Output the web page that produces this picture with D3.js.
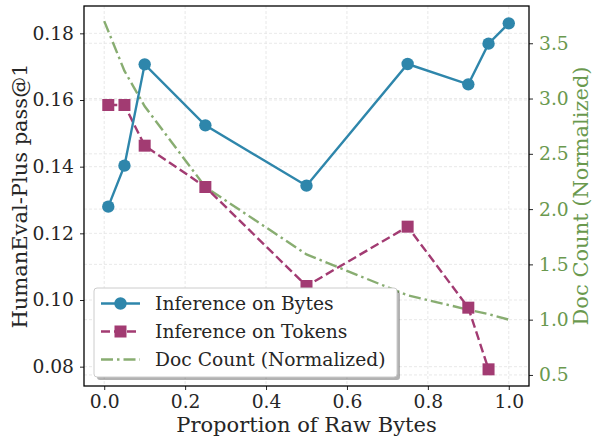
<!DOCTYPE html>
<html><head><meta charset="utf-8">
<script src="https://cdn.jsdelivr.net/npm/d3@7"></script>
<style>body{margin:0;background:#fff}svg{display:block}</style>
</head><body>
<svg id="c" width="592" height="436"></svg>
<script>
const xTicks = [0.0, 0.2, 0.4, 0.6, 0.8, 1.0];
const leftTicks = [0.08, 0.10, 0.12, 0.14, 0.16, 0.18];
const rightTicks = [0.5, 1.0, 1.5, 2.0, 2.5, 3.0, 3.5];
const bytesX = [0.01, 0.05, 0.1, 0.25, 0.5, 0.75, 0.9, 0.95, 1.0];
const bytesY = [0.128, 0.1403, 0.1707, 0.1524, 0.1343, 0.1708, 0.1647, 0.1769, 0.183];
const tokensX = [0.01, 0.05, 0.1, 0.25, 0.5, 0.75, 0.9, 0.95];
const tokensY = [0.1585, 0.1585, 0.1463, 0.1339, 0.1042, 0.122, 0.0977, 0.0792];
const docX = [0.0, 0.05, 0.1, 0.25, 0.5, 0.75, 0.9, 0.95, 1.0];
const docY = [3.70, 3.25, 2.93, 2.20, 1.59, 1.22, 1.09, 1.05, 1.00];
const legendLabels = ["Inference on Bytes", "Inference on Tokens", "Doc Count (Normalized)"];

const C_BYTES = "#2E86AB", C_TOK = "#A23B72", C_DOC = "#6A994E";
const FONT = "'DejaVu Serif', serif";
const m = {l:84, r:529, t:6, b:386};
const svg = d3.select("#c");
const x = d3.scaleLinear().domain([-0.05, 1.05]).range([m.l, m.r]);
const yL = d3.scaleLinear().domain([0.0742, 0.1882]).range([m.b, m.t]);
const yR = d3.scaleLinear().domain([0.40, 3.837]).range([m.b, m.t]);

// grid
const g = svg.append("g").attr("stroke", "#e3e3e3").attr("stroke-width", 0.8).attr("stroke-dasharray", "3,2");
xTicks.forEach(v => g.append("line").attr("x1", x(v)).attr("x2", x(v)).attr("y1", m.t).attr("y2", m.b));
leftTicks.forEach(v => g.append("line").attr("x1", m.l).attr("x2", m.r).attr("y1", yL(v)).attr("y2", yL(v)));
rightTicks.forEach(v => g.append("line").attr("x1", m.l).attr("x2", m.r).attr("y1", yR(v)).attr("y2", yR(v)));

// axes
const fmt2 = d3.format(".2f"), fmt1 = d3.format(".1f");
const ax = svg.append("g").attr("transform", `translate(0,${m.b})`)
  .call(d3.axisBottom(x).tickValues(xTicks).tickFormat(fmt1).tickSize(4).tickPadding(5));
const al = svg.append("g").attr("transform", `translate(${m.l},0)`)
  .call(d3.axisLeft(yL).tickValues(leftTicks).tickFormat(fmt2).tickSize(4).tickPadding(6));
const ar = svg.append("g").attr("transform", `translate(${m.r},0)`)
  .call(d3.axisRight(yR).tickValues(rightTicks).tickFormat(fmt1).tickSize(4).tickPadding(6));
[ax, al, ar].forEach(a => {
  a.selectAll(".domain").remove();
  a.attr("font-family", FONT);
  a.selectAll("text").attr("font-family", FONT).attr("font-size", 18.7).attr("fill", "#262626");
  a.selectAll("line").attr("stroke", "#262626").attr("stroke-width", 1);
});
ar.selectAll("text").attr("fill", C_DOC);

// frame
svg.append("rect").attr("x", m.l).attr("y", m.t).attr("width", m.r - m.l).attr("height", m.b - m.t)
  .attr("fill", "none").attr("stroke", "#000").attr("stroke-width", 1.3);

// doc count line
const docData = docX.map((v, i) => [v, docY[i]]);
svg.append("path").datum(docData)
  .attr("d", d3.line().x(d => x(d[0])).y(d => yR(d[1])))
  .attr("fill", "none").attr("stroke", C_DOC).attr("stroke-opacity", 0.8).attr("stroke-width", 2.4)
  .attr("stroke-dasharray", "12,4,2.5,4");

// tokens
const tokData = tokensX.map((v, i) => [v, tokensY[i]]);
svg.append("path").datum(tokData)
  .attr("d", d3.line().x(d => x(d[0])).y(d => yL(d[1])))
  .attr("fill", "none").attr("stroke", C_TOK).attr("stroke-width", 2.4).attr("stroke-dasharray", "9,4");
svg.append("g").selectAll("rect").data(tokData).join("rect")
  .attr("x", d => x(d[0]) - 6).attr("y", d => yL(d[1]) - 6).attr("width", 12).attr("height", 12)
  .attr("fill", C_TOK);

// bytes
const byData = bytesX.map((v, i) => [v, bytesY[i]]);
svg.append("path").datum(byData)
  .attr("d", d3.line().x(d => x(d[0])).y(d => yL(d[1])))
  .attr("fill", "none").attr("stroke", C_BYTES).attr("stroke-width", 2.4);
svg.append("g").selectAll("circle").data(byData).join("circle")
  .attr("cx", d => x(d[0])).attr("cy", d => yL(d[1])).attr("r", 6.2).attr("fill", C_BYTES);

// axis labels
svg.append("text").attr("x", (m.l + m.r) / 2).attr("y", 432).attr("text-anchor", "middle")
  .attr("font-family", FONT).attr("font-size", 21).attr("fill", "#262626").text("Proportion of Raw Bytes");
svg.append("text").attr("transform", `translate(27,${(m.t + m.b) / 2}) rotate(-90)`).attr("text-anchor", "middle")
  .attr("font-family", FONT).attr("font-size", 21).attr("fill", "#262626").text("HumanEval-Plus pass@1");
svg.append("text").attr("transform", `translate(588,${(m.t + m.b) / 2}) rotate(-90)`).attr("text-anchor", "middle")
  .attr("font-family", FONT).attr("font-size", 21).attr("fill", C_DOC).text("Doc Count (Normalized)");

// legend
const L = {x: 94, y: 288, w: 303, h: 89};
svg.append("rect").attr("x", L.x + 3).attr("y", L.y + 3).attr("width", L.w).attr("height", L.h).attr("rx", 3)
  .attr("fill", "#000").attr("opacity", 0.3);
svg.append("rect").attr("x", L.x).attr("y", L.y).attr("width", L.w).attr("height", L.h).attr("rx", 3)
  .attr("fill", "#fff").attr("stroke", "#cccccc").attr("stroke-width", 1);
const rows = [303.5, 331.5, 359.5];
const lg = svg.append("g");
lg.append("line").attr("x1", 101).attr("x2", 140).attr("y1", rows[0]).attr("y2", rows[0]).attr("stroke", C_BYTES).attr("stroke-width", 2.4);
lg.append("circle").attr("cx", 120.5).attr("cy", rows[0]).attr("r", 6.2).attr("fill", C_BYTES);
lg.append("line").attr("x1", 101).attr("x2", 140).attr("y1", rows[1]).attr("y2", rows[1]).attr("stroke", C_TOK).attr("stroke-width", 2.4).attr("stroke-dasharray", "9,4");
lg.append("rect").attr("x", 114.5).attr("y", rows[1] - 6).attr("width", 12).attr("height", 12).attr("fill", C_TOK);
lg.append("line").attr("x1", 101).attr("x2", 140).attr("y1", rows[2]).attr("y2", rows[2]).attr("stroke", C_DOC).attr("stroke-opacity", 0.8).attr("stroke-width", 2.4).attr("stroke-dasharray", "12,4,2.5,4");
legendLabels.forEach((t, i) => lg.append("text").attr("x", 155).attr("y", rows[i]).attr("dy", "0.35em")
  .attr("font-family", FONT).attr("font-size", 18.7).attr("fill", "#262626").text(t));
</script>
</body></html>
